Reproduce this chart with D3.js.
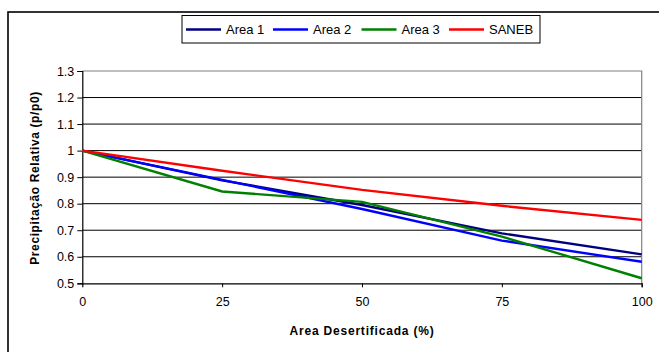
<!DOCTYPE html>
<html><head><meta charset="utf-8">
<script src="https://cdn.jsdelivr.net/npm/d3@7"></script>
<style>body{margin:0;background:#fff}svg{display:block;font-family:"Liberation Sans",Arial,sans-serif}</style>
</head><body><svg id="c" width="659" height="352"></svg>
<script>
const xValues = [0, 25, 50, 75, 100];
const area1 = [1, 0.888, 0.795, 0.688, 0.609];
const area2 = [1, 0.890, 0.780, 0.661, 0.581];
const area3 = [1, 0.846, 0.807, 0.676, 0.519];
const saneb = [1, 0.924, 0.852, 0.792, 0.739];
const seriesNames = ["Area 1", "Area 2", "Area 3", "SANEB"];
const seriesColors = ["#000080", "#0000ff", "#008000", "#ff0000"];
const yTicks = [0.5, 0.6, 0.7, 0.8, 0.9, 1, 1.1, 1.2, 1.3];
const xTicks = [0, 25, 50, 75, 100];

const svg = d3.select("#c");
const x = d3.scaleLinear().domain([0, 100]).range([82.3, 641.7]);
const y = d3.scaleLinear().domain([0.5, 1.3]).range([283.3, 71]);

// outer chart border (extends past the canvas)
svg.append("rect").attr("x", 8).attr("y", 12).attr("width", 700).attr("height", 400)
  .attr("fill", "#fff").attr("stroke", "#000").attr("stroke-width", 1.6);

// gridlines
svg.append("g").selectAll("line").data(yTicks.filter(d => d > 0.5 && d < 1.3)).join("line")
  .attr("x1", x(0)).attr("x2", x(100)).attr("y1", d => y(d)).attr("y2", d => y(d))
  .attr("stroke", "#000").attr("stroke-width", 1);
// plot area border top/right (gray)
svg.append("path").attr("d", `M${x(0)},${y(1.3)}H${x(100)}V${y(0.5)}`)
  .attr("fill", "none").attr("stroke", "#808080").attr("stroke-width", 1.2);

// axes
const yAxis = d3.axisLeft(y).tickValues(yTicks).tickSize(5).tickPadding(3)
  .tickFormat(d => d3.format("")(+d.toFixed(1)));
const gy = svg.append("g").attr("transform", `translate(${x(0)},0)`).call(yAxis);
const xAxis = d3.axisBottom(x).tickValues(xTicks).tickSize(4).tickPadding(10);
const gx = svg.append("g").attr("transform", `translate(0,${y(0.5)})`).call(xAxis);
[gy, gx].forEach(g => {
  g.select(".domain").attr("stroke", "#000").attr("stroke-width", 1.2);
  g.selectAll(".tick line").attr("stroke", "#000");
  g.selectAll(".tick text").attr("font-size", 12.5).attr("fill", "#000")
    .attr("font-family", "Liberation Sans, Arial, sans-serif");
});
gx.select(".tick line").attr("y2", 0);

// lines
const allSeries = [area1, area2, area3, saneb];
const line = d3.line().x((d, i) => x(xValues[i])).y(d => y(d));
allSeries.forEach((s, i) => {
  svg.append("path").datum(s).attr("d", line).attr("fill", "none")
    .attr("stroke", seriesColors[i]).attr("stroke-width", 2.4);
});

// axis titles
svg.append("text").attr("x", 362).attr("y", 335).attr("text-anchor", "middle")
  .attr("font-size", 12).attr("font-weight", "bold").attr("letter-spacing", 0.8)
  .text("Area Desertificada (%)");
svg.append("text").attr("transform", "translate(39,178) rotate(-90)").attr("text-anchor", "middle")
  .attr("font-size", 12).attr("font-weight", "bold").attr("letter-spacing", 0.6)
  .text("Precipitação Relativa (p/p0)");

// legend
const lg = svg.append("g");
lg.append("rect").attr("x", 182).attr("y", 15.5).attr("width", 358).attr("height", 27.5)
  .attr("fill", "#fff").attr("stroke", "#000").attr("stroke-width", 1);
const legendX = [186, 273, 361.5, 449];
seriesNames.forEach((n, i) => {
  lg.append("line").attr("x1", legendX[i]).attr("x2", legendX[i] + 35).attr("y1", 29.5).attr("y2", 29.5)
    .attr("stroke", seriesColors[i]).attr("stroke-width", 2.4);
  lg.append("text").attr("x", legendX[i] + 40).attr("y", 34).attr("font-size", 13).text(n);
});
</script></body></html>
